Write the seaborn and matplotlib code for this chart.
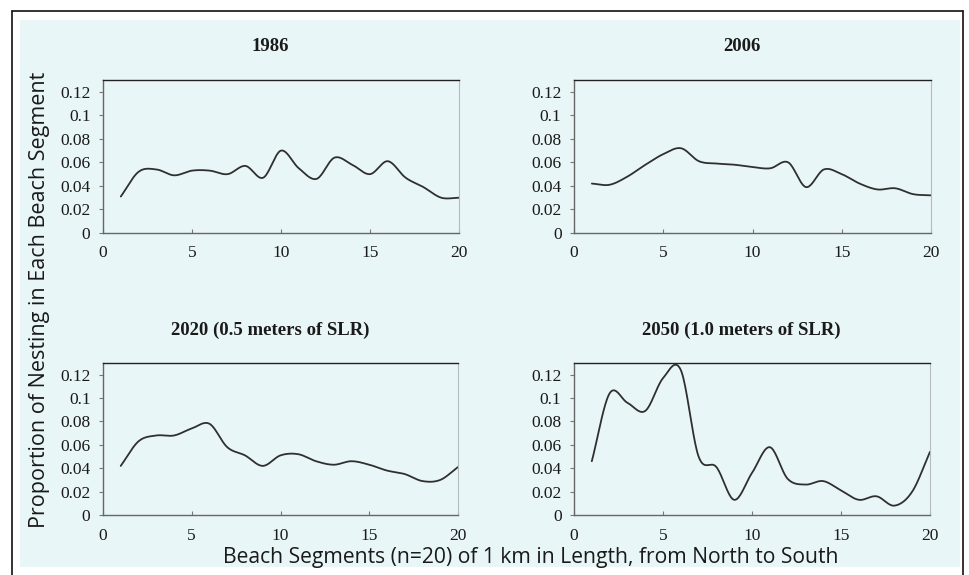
import numpy as np
import pandas as pd
import matplotlib
matplotlib.use("Agg")
import matplotlib.pyplot as plt
from matplotlib.ticker import FuncFormatter, FixedLocator
from matplotlib.patches import Rectangle
from matplotlib.lines import Line2D
import seaborn as sns

# beach segments 1..20 and proportion of nesting in each
segments = list(range(1, 21))
nest_1986 = [0.031, 0.052, 0.054, 0.049, 0.053, 0.053, 0.050, 0.057, 0.047, 0.070,
             0.055, 0.046, 0.064, 0.058, 0.050, 0.061, 0.047, 0.039, 0.030, 0.030]
nest_2006 = [0.042, 0.041, 0.048, 0.058, 0.067, 0.072, 0.061, 0.059, 0.058, 0.056,
             0.055, 0.060, 0.039, 0.054, 0.050, 0.042, 0.037, 0.038, 0.033, 0.032]
nest_2020 = [0.042, 0.063, 0.068, 0.068, 0.074, 0.078, 0.058, 0.051, 0.042, 0.051,
             0.052, 0.046, 0.043, 0.046, 0.043, 0.038, 0.035, 0.029, 0.030, 0.041]
nest_2050 = [0.046, 0.104, 0.096, 0.089, 0.117, 0.124, 0.050, 0.041, 0.013, 0.036,
             0.058, 0.031, 0.026, 0.029, 0.021, 0.013, 0.016, 0.008, 0.020, 0.054]
titles = ["1986", "2006", "2020 (0.5 meters of SLR)", "2050 (1.0 meters of SLR)"]
y_ticks = [0, 0.02, 0.04, 0.06, 0.08, 0.1, 0.12]
x_ticks = [0, 5, 10, 15, 20]

BG = "#e9f6f7"
LINE = "#2f2f2f"
W, H = 969, 575


def smooth(x, y, n=20):
    # Excel-style "smoothed line": Catmull-Rom curve through the points
    x = np.asarray(x, float)
    y = np.asarray(y, float)
    px = np.concatenate([[2 * x[0] - x[1]], x, [2 * x[-1] - x[-2]]])
    py = np.concatenate([[2 * y[0] - y[1]], y, [2 * y[-1] - y[-2]]])
    xs, ys = [], []
    t = np.linspace(0, 1, n, endpoint=False)
    for i in range(1, len(px) - 2):
        for p, out in ((px, xs), (py, ys)):
            p0, p1, p2, p3 = p[i - 1], p[i], p[i + 1], p[i + 2]
            out.extend(0.5 * ((2 * p1) + (-p0 + p2) * t
                              + (2 * p0 - 5 * p1 + 4 * p2 - p3) * t ** 2
                              + (-p0 + 3 * p1 - 3 * p2 + p3) * t ** 3))
    xs.append(x[-1])
    ys.append(y[-1])
    return pd.DataFrame({"segment": xs, "prop": ys})


sns.set_theme(style="white")
plt.rcParams["font.family"] = ["Liberation Serif", "DejaVu Serif"]

fig = plt.figure(figsize=(W / 100, H / 100), dpi=100, facecolor="white")

# scanned page frame
fig.patches.append(Rectangle((20 / W, 1 - 567 / H), 940 / W, 547 / H,
                             transform=fig.transFigure, facecolor=BG, edgecolor="none", zorder=-5))
for xs_, ys_ in (([12, 12], [575, 11]), ([12, 963], [11, 11]), ([963, 963], [11, 575])):
    fig.lines.append(Line2D([v / W for v in xs_], [1 - v / H for v in ys_],
                            transform=fig.transFigure, color="#111111", lw=1.2, zorder=-4))

# axes boxes in pixels: left, top, right, bottom
boxes = [(103, 80, 459, 233), (574, 80, 931, 233),
         (103, 363, 458, 515), (574, 363, 930, 515)]
series = [nest_1986, nest_2006, nest_2020, nest_2050]

for (l, t, r, b), vals, title in zip(boxes, series, titles):
    ax = fig.add_axes([l / W, 1 - b / H, (r - l) / W, (b - t) / H])
    ax.set_facecolor(BG)
    sns.lineplot(data=smooth(segments, vals), x="segment", y="prop", ax=ax,
                 color=LINE, lw=1.3, sort=False, estimator=None)
    ax.set_xlim(0, 20)
    ax.set_ylim(0, 0.13)
    ax.xaxis.set_major_locator(FixedLocator(x_ticks))
    ax.yaxis.set_major_locator(FixedLocator(y_ticks))
    ax.yaxis.set_major_formatter(FuncFormatter(lambda v, p: f"{v:g}"))
    ax.tick_params(axis="y", direction="out", length=3, width=0.8, color="#777777",
                   labelsize=12.5, pad=6, left=True, labelcolor="#1a1a1a")
    ax.tick_params(axis="x", direction="in", length=3, width=0.8, color="#777777",
                   labelsize=12.5, pad=9, bottom=True, labelcolor="#1a1a1a")
    for s in ["left", "bottom"]:
        ax.spines[s].set_color("#666666")
        ax.spines[s].set_linewidth(1.0)
    ax.spines["top"].set_color("#222222")
    ax.spines["top"].set_linewidth(1.0)
    ax.spines["right"].set_color("#b5bcbd")
    ax.spines["right"].set_linewidth(0.8)
    ax.set_xlabel("")
    ax.set_ylabel("")
    ax.text(0.47, 1.0 + 33 / (b - t), title, transform=ax.transAxes, ha="center",
            va="center", fontsize=13.5, fontweight="bold", color="#1a1a1a")

fig.text(40 / W, 1 - 300 / H, "Proportion of Nesting in Each Beach Segment",
         rotation=90, ha="center", va="center", fontsize=15.5,
         family=["Open Sans", "DejaVu Sans"], color="#1a1a1a")
fig.text(531 / W, 1 - 557 / H, "Beach Segments (n=20) of 1 km in Length, from North to South",
         ha="center", va="center", fontsize=15.2,
         family=["Open Sans", "DejaVu Sans"], color="#1a1a1a")

fig.savefig("out.png", dpi=100, facecolor="white")
